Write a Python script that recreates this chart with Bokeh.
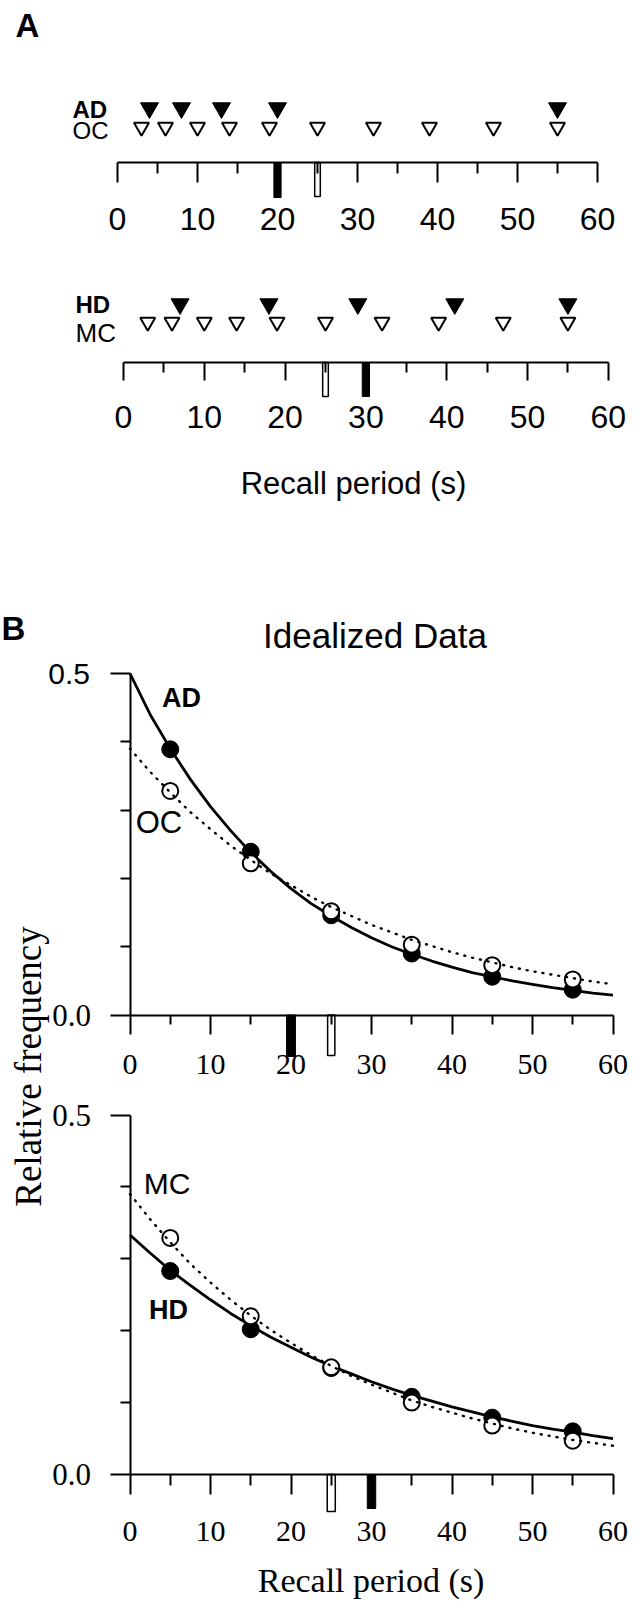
import numpy as np
from bokeh.plotting import figure
from bokeh.models import Range1d, LinearAxis, FixedTicker, PrintfTickFormatter
from bokeh.layouts import column
from bokeh.embed import file_html
from bokeh.resources import INLINE
from bokeh.core.properties import value

# ---------------- data ----------------
# Panel A: individual recall times (s)
ad_recall_times = [4, 8, 13, 20, 55]
oc_recall_times = [3, 6, 10, 14, 19, 25, 32, 39, 47, 55]
hd_recall_times = [7, 18, 29, 41, 55]
mc_recall_times = [3, 6, 10, 14, 19, 25, 32, 39, 47, 55]
time_ticks = [0, 10, 20, 30, 40, 50, 60]
time_minor_ticks = [5, 15, 25, 35, 45, 55]

# Panel B: idealized relative frequencies per 10-s bin
bin_centers = [5, 15, 25, 35, 45, 55]
ad_freq = [0.389, 0.239, 0.146, 0.090, 0.056, 0.037]
oc_freq = [0.328, 0.222, 0.152, 0.103, 0.073, 0.052]
hd_freq = [0.283, 0.202, 0.148, 0.108, 0.079, 0.060]
mc_freq = [0.329, 0.220, 0.149, 0.100, 0.068, 0.047]

curve_x = [0, 2.5, 5, 7.5, 10, 12.5, 15, 17.5, 20, 22.5, 25, 27.5, 30,
           32.5, 35, 37.5, 40, 42.5, 45, 47.5, 50, 52.5, 55, 57.5, 60]
ad_fit = [0.500, 0.440, 0.390, 0.345, 0.305, 0.270, 0.238, 0.210, 0.185,
          0.163, 0.145, 0.128, 0.113, 0.100, 0.089, 0.079, 0.070, 0.062,
          0.056, 0.050, 0.045, 0.040, 0.036, 0.032, 0.029]
oc_fit = [0.390, 0.356, 0.326, 0.297, 0.272, 0.248, 0.227, 0.207, 0.190,
          0.173, 0.158, 0.145, 0.132, 0.121, 0.110, 0.101, 0.092, 0.084,
          0.077, 0.070, 0.064, 0.059, 0.054, 0.049, 0.045]
hd_fit = [0.333, 0.308, 0.284, 0.263, 0.243, 0.224, 0.207, 0.191, 0.177,
          0.163, 0.151, 0.140, 0.129, 0.119, 0.110, 0.102, 0.094, 0.087,
          0.080, 0.074, 0.068, 0.063, 0.059, 0.054, 0.050]
mc_fit = [0.390, 0.355, 0.323, 0.293, 0.267, 0.243, 0.221, 0.201, 0.183,
          0.166, 0.151, 0.137, 0.125, 0.114, 0.103, 0.094, 0.086, 0.078,
          0.071, 0.064, 0.058, 0.053, 0.048, 0.044, 0.040]
freq_major_ticks = [0.0, 0.5]
freq_minor_ticks = [0.1, 0.2, 0.3, 0.4]

SANS = "Liberation Sans"
SERIF = "Liberation Serif"
W = 642


def time_axis(loc, font, size, standoff, tick_out, minor_out, **kw):
    return LinearAxis(fixed_location=loc, bounds=(0, 60),
                      ticker=FixedTicker(ticks=time_ticks, minor_ticks=time_minor_ticks),
                      major_tick_in=0, major_tick_out=tick_out,
                      minor_tick_in=0, minor_tick_out=minor_out,
                      axis_line_width=2, major_tick_line_width=2, minor_tick_line_width=2,
                      axis_line_color="black", major_tick_line_color="black",
                      minor_tick_line_color="black",
                      major_label_text_font=font, major_label_text_font_size=size,
                      major_label_text_color="black", major_label_standoff=standoff, **kw)


def freq_axis(ticks, minor, font, size, standoff, line=True, **kw):
    return LinearAxis(fixed_location=0, bounds=(0, 0.5),
                      ticker=FixedTicker(ticks=ticks, minor_ticks=minor),
                      formatter=PrintfTickFormatter(format="%.1f"),
                      major_tick_in=0, major_tick_out=20,
                      minor_tick_in=0, minor_tick_out=10,
                      axis_line_width=2, major_tick_line_width=2, minor_tick_line_width=2,
                      axis_line_color="black" if line else None,
                      major_tick_line_color="black", minor_tick_line_color="black",
                      major_label_text_font=font, major_label_text_font_size=size,
                      major_label_text_color="black", major_label_standoff=standoff, **kw)


# ---------------- panel A ----------------
HA = 530


def ay(page_y):
    return HA - page_y


pa = figure(width=W, height=HA, x_range=Range1d((0 - 117) / 8.0, (W - 117) / 8.0),
            y_range=Range1d(0, HA), output_backend="svg", toolbar_location=None,
            x_axis_location=None, y_axis_location=None, min_border=0,
            outline_line_color=None, background_fill_color="white")
pa.extra_x_ranges = {"bot": Range1d((0 - 123) / 8.08, (W - 123) / 8.08)}
pa.grid.visible = False

pa.add_layout(time_axis(ay(162), SANS, "32px", 25, 20, 11), "below")
pa.add_layout(time_axis(ay(362), SANS, "32px", 25, 18, 10, x_range_name="bot"), "below")

# top row: AD / OC
pa.scatter(ad_recall_times, [ay(107.5)] * len(ad_recall_times), marker="inverted_triangle",
           size=18, fill_color="black", line_color="black", line_width=1)
pa.scatter(oc_recall_times, [ay(126.5)] * len(oc_recall_times), marker="inverted_triangle",
           size=15, fill_color="white", line_color="black", line_width=2)
pa.vbar(x=[np.mean(ad_recall_times)], width=0.9, top=ay(162), bottom=ay(197),
        fill_color="black", line_color="black")
pa.vbar(x=[np.mean(oc_recall_times)], width=0.7, top=ay(162), bottom=ay(196),
        fill_color="white", line_color="black", line_width=1.5)

# bottom row: HD / MC
pa.scatter(hd_recall_times, [ay(303.5)] * len(hd_recall_times), marker="inverted_triangle",
           size=18, fill_color="black", line_color="black", line_width=1, x_range_name="bot")
pa.scatter(mc_recall_times, [ay(321.5)] * len(mc_recall_times), marker="inverted_triangle",
           size=15, fill_color="white", line_color="black", line_width=2, x_range_name="bot")
pa.vbar(x=[np.mean(hd_recall_times)], width=0.9, top=ay(362), bottom=ay(396),
        fill_color="black", line_color="black", x_range_name="bot")
pa.vbar(x=[np.mean(mc_recall_times)], width=0.7, top=ay(362), bottom=ay(396),
        fill_color="white", line_color="black", line_width=1.5, x_range_name="bot")

pa.text(x=[(27 - 117) / 8.0], y=[ay(25)], text=["A"], text_font=value(SANS),
        text_font_style="bold", text_font_size="33px", text_align="center",
        text_baseline="middle", text_color="black")
pa.text(x=[(72 - 117) / 8.0], y=[ay(108.5)], text=["AD"], text_font=value(SANS),
        text_font_style="bold", text_font_size="24px", text_align="left",
        text_baseline="middle", text_color="black")
pa.text(x=[(72 - 117) / 8.0], y=[ay(129.5)], text=["OC"], text_font=value(SANS),
        text_font_size="24px", text_align="left", text_baseline="middle", text_color="black")
pa.text(x=[(75 - 123) / 8.08], y=[ay(303.5)], text=["HD"], text_font=value(SANS),
        text_font_style="bold", text_font_size="24px", text_align="left",
        text_baseline="middle", text_color="black", x_range_name="bot")
pa.text(x=[(75 - 123) / 8.08], y=[ay(332.5)], text=["MC"], text_font=value(SANS),
        text_font_size="26px", text_align="left", text_baseline="middle",
        text_color="black", x_range_name="bot")
pa.text(x=[(353 - 123) / 8.08], y=[ay(483)], text=["Recall period (s)"],
        text_font=value(SANS), text_font_size="31px", text_align="center",
        text_baseline="middle", text_color="black", x_range_name="bot")

# ---------------- panel B ----------------
PB_TOP = HA          # 530
HB = 1604 - PB_TOP   # 1074
PB_BOT = PB_TOP + HB


def bx(page_x):
    return (page_x - 129.5) / 8.05


def ty(page_y):
    return (1014.5 - page_y) / 683.0


def by(page_y):
    return (1474.0 - page_y) / 719.0


pb = figure(width=W, height=HB, x_range=Range1d(bx(0), bx(W)),
            y_range=Range1d(ty(PB_BOT), ty(PB_TOP)), output_backend="svg",
            toolbar_location=None, x_axis_location=None, y_axis_location=None,
            min_border=0, outline_line_color=None, background_fill_color="white")
pb.extra_y_ranges = {"bot": Range1d(by(PB_BOT), by(PB_TOP))}
pb.grid.visible = False

# axes, upper plot
pb.add_layout(time_axis(0, SERIF, "30px", 21, 19, 9), "below")
pb.add_layout(freq_axis([0.5], freq_minor_ticks, SANS, "30px", 20), "left")
pb.add_layout(freq_axis([0.0], [], SERIF, "31px", 19, line=False), "left")
# axes, lower plot
pb.add_layout(time_axis(0, SERIF, "30px", 27, 20, 11, y_range_name="bot"), "below")
pb.add_layout(freq_axis(freq_major_ticks, freq_minor_ticks, SERIF, "31px", 19,
                        y_range_name="bot"), "left")

# upper plot: AD vs OC
pb.line(curve_x, ad_fit, line_color="black", line_width=2.8)
pb.scatter(bin_centers, ad_freq, marker="circle", size=17, fill_color="black",
           line_color="black")
pb.scatter(bin_centers, oc_freq, marker="circle", size=16, fill_color="white",
           line_color="black", line_width=2)
pb.line(curve_x, oc_fit, line_color="black", line_width=2.4, line_dash="1 7",
        line_cap="round")
pb.vbar(x=[np.mean(ad_recall_times)], width=1.1, top=0, bottom=ty(1056),
        fill_color="black", line_color="black")
pb.vbar(x=[np.mean(oc_recall_times)], width=0.9, top=0, bottom=ty(1055),
        fill_color="white", line_color="black", line_width=1.5)

# lower plot: HD vs MC
pb.line(curve_x, hd_fit, line_color="black", line_width=2.8, y_range_name="bot")
pb.scatter(bin_centers, hd_freq, marker="circle", size=17, fill_color="black",
           line_color="black", y_range_name="bot")
pb.scatter(bin_centers, mc_freq, marker="circle", size=16, fill_color="white",
           line_color="black", line_width=2, y_range_name="bot")
pb.line(curve_x, mc_fit, line_color="black", line_width=2.4, line_dash="1 7",
        line_cap="round", y_range_name="bot")
pb.vbar(x=[np.mean(mc_recall_times)], width=1.0, top=0, bottom=by(1511),
        fill_color="white", line_color="black", line_width=1.5, y_range_name="bot")
pb.vbar(x=[np.mean(hd_recall_times)], width=1.05, top=0, bottom=by(1508),
        fill_color="black", line_color="black", y_range_name="bot")

# texts
pb.text(x=[bx(1)], y=[ty(628)], text=["B"], text_font=value(SANS), text_font_style="bold",
        text_font_size="33px", text_align="left", text_baseline="middle", text_color="black")
pb.text(x=[bx(374.5)], y=[ty(635)], text=["Idealized Data"], text_font=value(SANS),
        text_font_size="35px", text_align="center", text_baseline="middle", text_color="black")
pb.text(x=[bx(181)], y=[ty(697)], text=["AD"], text_font=value(SANS), text_font_style="bold",
        text_font_size="27px", text_align="center", text_baseline="middle", text_color="black")
pb.text(x=[bx(158.5)], y=[ty(822)], text=["OC"], text_font=value(SANS),
        text_font_size="31px", text_align="center", text_baseline="middle", text_color="black")
pb.text(x=[bx(166.5)], y=[by(1182.5)], text=["MC"], text_font=value(SANS),
        text_font_size="30px", text_align="center", text_baseline="middle",
        text_color="black", y_range_name="bot")
pb.text(x=[bx(168)], y=[by(1309)], text=["HD"], text_font=value(SANS), text_font_style="bold",
        text_font_size="27px", text_align="center", text_baseline="middle",
        text_color="black", y_range_name="bot")
pb.text(x=[bx(28)], y=[ty(1066)], text=["Relative frequency"], text_font=value(SERIF),
        text_font_size="37px", angle=np.pi / 2, text_align="center",
        text_baseline="alphabetic", text_color="black")
pb.text(x=[bx(370.5)], y=[by(1580)], text=["Recall period (s)"], text_font=value(SERIF),
        text_font_size="34px", text_align="center", text_baseline="middle",
        text_color="black", y_range_name="bot")

layout = column(pa, pb, spacing=0)
open("out.html", "w").write(file_html(layout, INLINE))
